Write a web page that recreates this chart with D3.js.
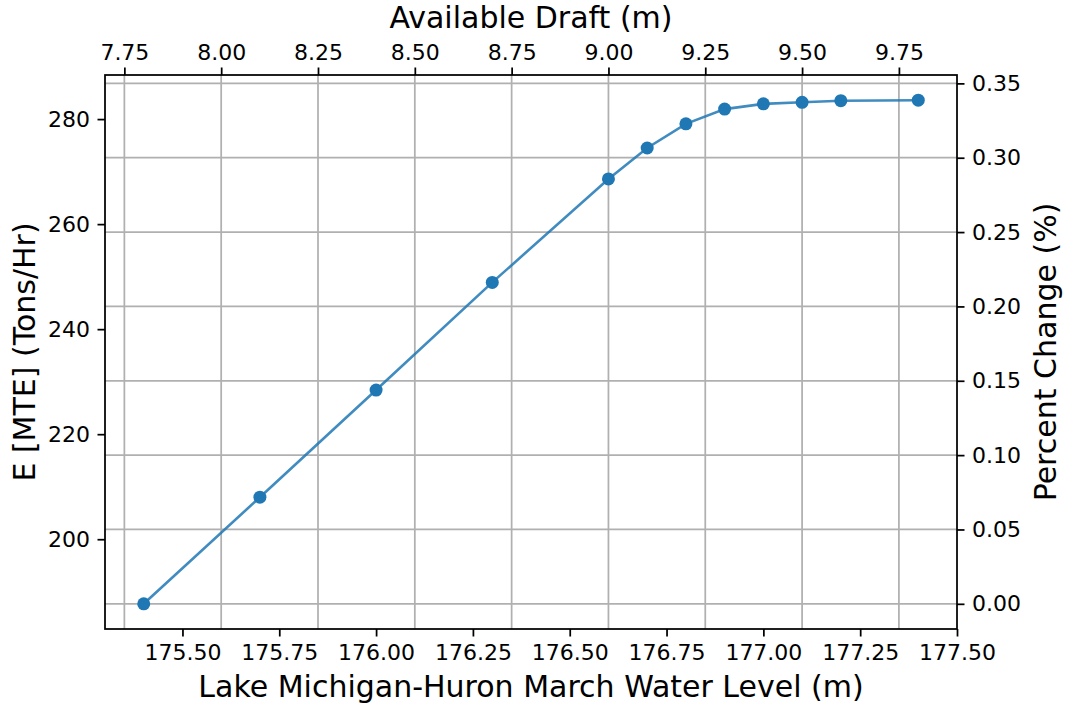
<!DOCTYPE html>
<html>
<head>
<meta charset="utf-8">
<script src="https://cdn.jsdelivr.net/npm/d3@7"></script>
<style>
    body { margin: 0; background: #fff; }
    text { font-family: "DejaVu Sans", sans-serif; fill: #000; }
</style>
</head>
<body>
<svg id="chart" width="1066" height="705"></svg>
<script>
// Data

const levels = [175.4, 175.7, 176.0, 176.3, 176.6, 176.7, 176.8, 176.9, 177.0, 177.1, 177.2, 177.4];
const emissions = [187.7, 208.0, 228.4, 248.9, 268.6, 274.5, 279.1, 281.9, 282.9, 283.2, 283.5, 283.6];
const draftRange = [7.8, 9.8];
const pctRange = [0, 0.3387];

const levelTicks = [175.50, 175.75, 176.00, 176.25, 176.50, 176.75, 177.00, 177.25, 177.50];
const draftTicks = [7.75, 8.00, 8.25, 8.50, 8.75, 9.00, 9.25, 9.50, 9.75];
const eTicks = [200, 220, 240, 260, 280];
const pctTicks = [0, 0.05, 0.10, 0.15, 0.20, 0.25, 0.30, 0.35];


// Layout

const plotL = 105, plotR = 957, plotT = 75, plotB = 629;
const tickLen = 7.5, tickPad = 7.5;
const gridColor = '#b0b0b0';
const blue = '#1f77b4';

// matplotlib style 5% margins
function pad(ext) {
    const m = (ext[1] - ext[0]) * 0.05;
    return [ext[0] - m, ext[1] + m];
}

const x = d3.scaleLinear().domain(pad(d3.extent(levels))).range([plotL, plotR]);
const xTop = d3.scaleLinear().domain(pad(draftRange)).range([plotL, plotR]);
const y = d3.scaleLinear().domain(pad(d3.extent(emissions))).range([plotB, plotT]);
const yRight = d3.scaleLinear().domain(pad(pctRange)).range([plotB, plotT]);

const svg = d3.select('#chart');


// Grid (top and right axes only)

svg.append('g')
    .selectAll('line')
    .data(draftTicks)
    .join('line')
    .attr('x1', d => xTop(d)).attr('x2', d => xTop(d))
    .attr('y1', plotT).attr('y2', plotB)
    .attr('stroke', gridColor)
    .attr('stroke-width', 1.75);

svg.append('g')
    .selectAll('line')
    .data(pctTicks)
    .join('line')
    .attr('x1', plotL).attr('x2', plotR)
    .attr('y1', d => yRight(d)).attr('y2', d => yRight(d))
    .attr('stroke', gridColor)
    .attr('stroke-width', 1.75);


// Series

const line = d3.line()
    .x((d, i) => x(levels[i]))
    .y(d => y(d));

svg.append('path')
    .datum(emissions)
    .attr('d', line)
    .attr('fill', 'none')
    .attr('stroke', blue)
    .attr('stroke-opacity', 0.85)
    .attr('stroke-width', 2.6);

svg.append('g')
    .selectAll('circle')
    .data(emissions)
    .join('circle')
    .attr('cx', (d, i) => x(levels[i]))
    .attr('cy', d => y(d))
    .attr('r', 6.5)
    .attr('fill', blue);


// Axes

function styleAxis(g) {
    g.select('.domain').remove();
    g.selectAll('.tick line').attr('stroke', '#000').attr('stroke-width', 1.75);
    g.selectAll('.tick text').style('font-size', '22px').attr('fill', '#262626');
}

svg.append('g')
    .attr('transform', `translate(0,${plotB})`)
    .call(d3.axisBottom(x).tickValues(levelTicks).tickFormat(d3.format('.2f'))
        .tickSizeInner(tickLen).tickSizeOuter(0).tickPadding(tickPad))
    .call(styleAxis);

svg.append('g')
    .attr('transform', `translate(0,${plotT})`)
    .call(d3.axisTop(xTop).tickValues(draftTicks).tickFormat(d3.format('.2f'))
        .tickSizeInner(tickLen).tickSizeOuter(0).tickPadding(tickPad))
    .call(styleAxis);

svg.append('g')
    .attr('transform', `translate(${plotL},0)`)
    .call(d3.axisLeft(y).tickValues(eTicks).tickFormat(d3.format('d'))
        .tickSizeInner(tickLen).tickSizeOuter(0).tickPadding(tickPad))
    .call(styleAxis);

svg.append('g')
    .attr('transform', `translate(${plotR},0)`)
    .call(d3.axisRight(yRight).tickValues(pctTicks).tickFormat(d3.format('.2f'))
        .tickSizeInner(tickLen).tickSizeOuter(0).tickPadding(tickPad))
    .call(styleAxis);

// Frame
svg.append('rect')
    .attr('x', plotL).attr('y', plotT)
    .attr('width', plotR - plotL).attr('height', plotB - plotT)
    .attr('fill', 'none')
    .attr('stroke', '#000')
    .attr('stroke-width', 1.75);


// Axis labels

const midX = (plotL + plotR) / 2;
const midY = (plotT + plotB) / 2;

svg.append('text')
    .attr('x', midX).attr('y', 697)
    .attr('text-anchor', 'middle')
    .style('font-size', '30px')
    .text('Lake Michigan-Huron March Water Level (m)');

svg.append('text')
    .attr('x', midX).attr('y', 28)
    .attr('text-anchor', 'middle')
    .style('font-size', '30px')
    .text('Available Draft (m)');

svg.append('text')
    .attr('transform', `translate(35,${midY}) rotate(-90)`)
    .attr('text-anchor', 'middle')
    .style('font-size', '30px')
    .text('E [MTE] (Tons/Hr)');

svg.append('text')
    .attr('transform', `translate(1056,${midY}) rotate(-90)`)
    .attr('text-anchor', 'middle')
    .style('font-size', '30px')
    .text('Percent Change (%)');
</script>
</body>
</html>
